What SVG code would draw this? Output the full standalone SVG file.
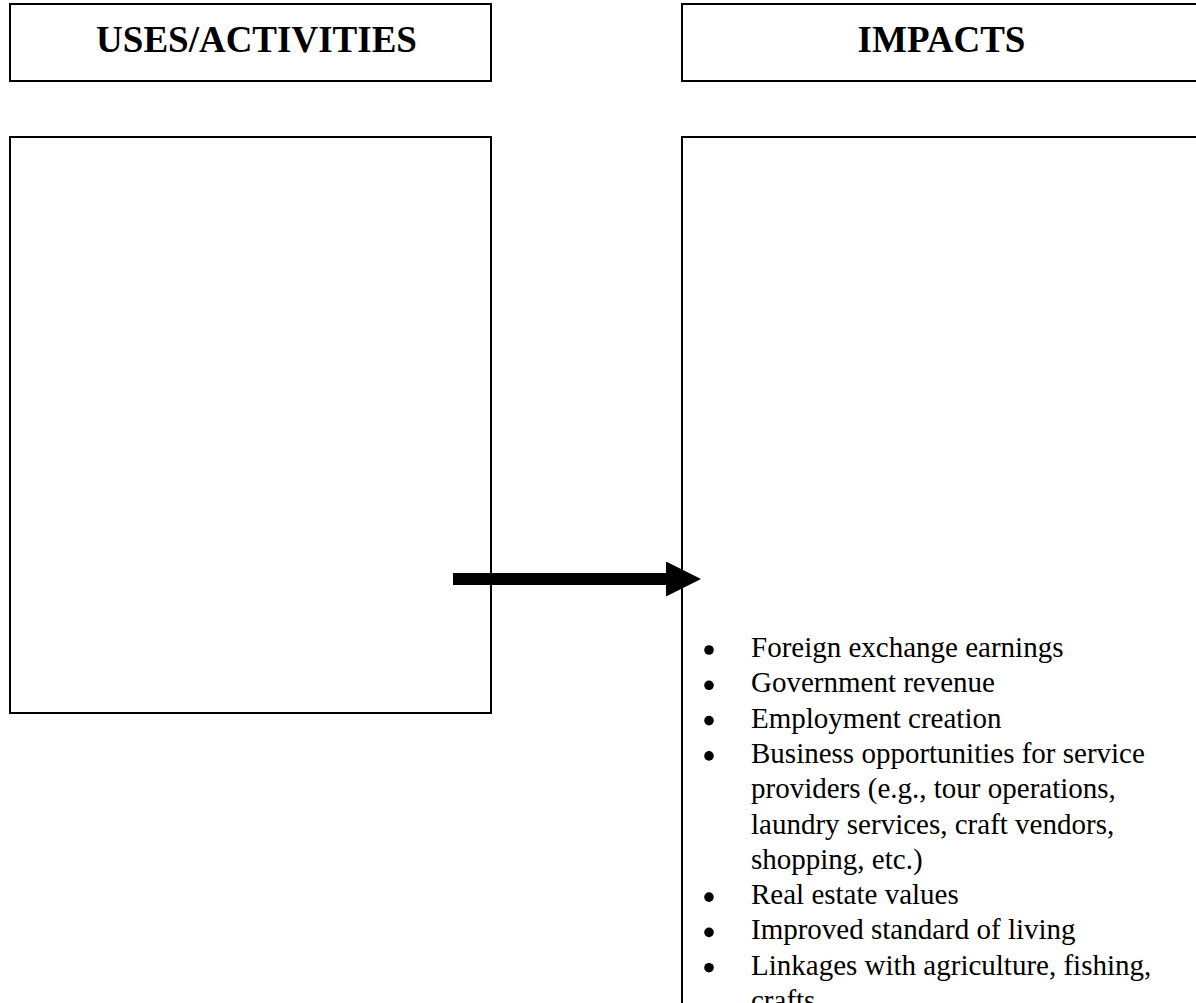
<svg xmlns="http://www.w3.org/2000/svg" width="1196" height="1003" viewBox="0 0 1196 1003">
  <style>
    .box { fill: #ffffff; stroke: #000000; stroke-width: 2; }
    .head { font-family: "Liberation Serif", "Times New Roman", serif; font-weight: bold; font-size: 37px; fill: #000000; text-anchor: middle; }
    .item { font-family: "Liberation Serif", "Times New Roman", serif; font-size: 29px; fill: #000000; }
    .bullet { fill: #000000; }
    .conn { stroke: #000000; stroke-width: 12; fill: none; }
  </style>
  <defs>
    <marker id="arrowhead" markerUnits="userSpaceOnUse" markerWidth="35" markerHeight="35" viewBox="0 0 35 35" refX="0" refY="17.5" orient="auto">
      <path d="M0,0 L35,17.5 L0,35 Z" fill="#000000"/>
    </marker>
  </defs>
  <rect x="0" y="0" width="1196" height="1003" fill="#ffffff"/>

  <g id="header-uses">
    <rect class="box" x="10" y="4" width="481" height="77"/>
    <text class="head" x="256.5" y="52">USES/ACTIVITIES</text>
  </g>

  <g id="header-impacts">
    <rect class="box" x="682" y="4" width="530" height="77"/>
    <text class="head" x="941.5" y="52">IMPACTS</text>
  </g>

  <g id="box-uses">
    <rect class="box" x="10" y="137" width="481" height="576"/>
  </g>

  <g id="box-impacts">
    <rect class="box" x="682" y="137" width="530" height="900"/>
    <g class="bullet">
      <circle cx="709" cy="650" r="4.8"/>
      <circle cx="709" cy="685.3" r="4.8"/>
      <circle cx="709" cy="720.6" r="4.8"/>
      <circle cx="709" cy="755.9" r="4.8"/>
      <circle cx="709" cy="897.1" r="4.8"/>
      <circle cx="709" cy="932.4" r="4.8"/>
      <circle cx="709" cy="967.7" r="4.8"/>
    </g>
    <text class="item" x="751" y="657">Foreign exchange earnings</text>
    <text class="item" x="751" y="692.3">Government revenue</text>
    <text class="item" x="751" y="727.6">Employment creation</text>
    <text class="item" x="751" y="762.9">Business opportunities for service</text>
    <text class="item" x="751" y="798.2">providers (e.g., tour operations,</text>
    <text class="item" x="751" y="833.5">laundry services, craft vendors,</text>
    <text class="item" x="751" y="868.8">shopping, etc.)</text>
    <text class="item" x="751" y="904.1">Real estate values</text>
    <text class="item" x="751" y="939.4">Improved standard of living</text>
    <text class="item" x="751" y="974.7">Linkages with agriculture, fishing,</text>
    <text class="item" x="751" y="1010">crafts</text>
  </g>

  <g id="connectors">
    <line class="conn" x1="453" y1="579" x2="666" y2="579" marker-end="url(#arrowhead)"/>
  </g>
</svg>
